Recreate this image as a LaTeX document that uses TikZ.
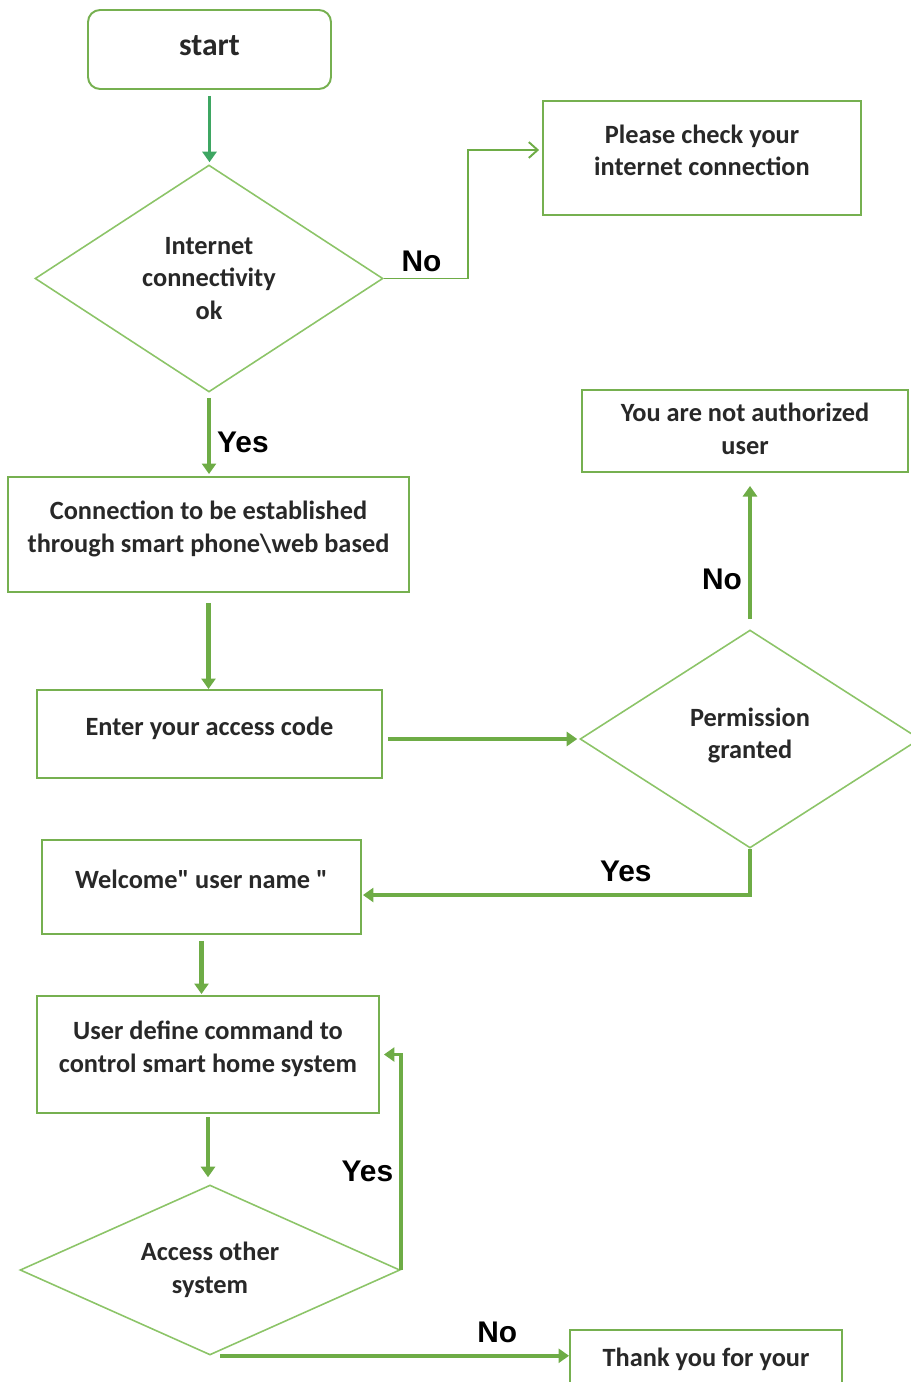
\documentclass[tikz,border=0pt]{standalone}
\usepackage{fontspec}
\setmainfont{Carlito}
\newfontfamily\labelfont{Liberation Sans}
\usetikzlibrary{shapes.geometric,arrows.meta}
\definecolor{boxline}{RGB}{118,176,80}
\definecolor{choiceline}{RGB}{140,196,104}
\definecolor{flowline}{RGB}{110,172,70}
\definecolor{startline}{RGB}{62,166,98}
\definecolor{boxtext}{RGB}{40,40,40}

\begin{document}
\begin{tikzpicture}[x=0.02cm, y=-0.02cm]
    \tikzstyle{every node} = [text=boxtext, align=center, font=\bfseries\fontsize{15}{18.5}\selectfont]
    \tikzstyle{box} = [draw=boxline, line width=1.1pt, inner sep=0pt]
    \tikzstyle{choice} = [draw=choiceline, line width=0.9pt, diamond, aspect=2, inner sep=0pt]
    \tikzstyle{flow} = [draw=flowline, line width=2.6pt, -{Triangle[length=6pt, width=8pt]}]
    \tikzstyle{answer} = [text=black, font=\labelfont\bfseries\fontsize{17}{17}\selectfont]

    \useasboundingbox (0,0) rectangle (910,1382);

    \node[box, rounded corners=0.24cm, minimum width=4.86cm, minimum height=1.58cm,
        font=\bfseries\fontsize{18}{18}\selectfont] (start) at (209.5,49.5) {start\\[-13pt]};
    \node[choice, minimum width=6.96cm, minimum height=4.54cm] (netok) at (209,278.5)
        {Internet\\connectivity\\ok};
    \node[box, minimum width=6.36cm, minimum height=2.28cm] (checknet) at (702,158)
        {Please check your\\internet connection\\[-9.5pt]};
    \node[box, minimum width=8.02cm, minimum height=2.3cm] (connect) at (208.5,534.5)
        {Connection to be established\\through smart phone\textbackslash web based\\[-9.5pt]};
    \node[box, minimum width=6.9cm, minimum height=1.76cm] (entercode) at (209.5,734)
        {Enter your access code\\[-9.5pt]};
    \node[choice, minimum width=6.8cm, minimum height=4.36cm] (permit) at (750,739)
        {Permission\\granted\\[-12pt]};
    \node[box, minimum width=6.52cm, minimum height=1.64cm] (notauth) at (745,431)
        {You are not authorized\\user\\[-16pt]};
    \node[box, minimum width=6.38cm, minimum height=1.88cm] (welcome) at (201.5,887)
        {Welcome\textquotedbl{} user name \textquotedbl\\[-9.5pt]};
    \node[box, minimum width=6.84cm, minimum height=2.34cm] (command) at (208,1054.5)
        {User define command to\\control smart home system\\[-9.5pt]};
    \node[choice, minimum width=7.6cm, minimum height=3.4cm] (other) at (210,1270)
        {Access other\\system};
    \node[box, minimum width=5.44cm, minimum height=1.4cm] (thanks) at (706,1365)
        {Thank you for your\\[-9.5pt]};

    \draw[flow, draw=startline, line width=2pt, shorten <=0.12cm, shorten >=0.04cm]
        (start.south) -- (start.south |- netok.north);
    \draw[draw=flowline, line width=1.1pt, -{Straight Barb[length=5pt, width=9pt]}, shorten >=0.06cm]
        (netok.east) -- node[answer, above, pos=0.45] (nonet) {No} ++(84,0)
        |- ([yshift=0.16cm]checknet.west);
    \draw[flow, shorten <=0.1cm, shorten >=0.04cm]
        (netok.south) -- node[answer, right, pos=0.6] (yesnet) {Yes} (netok.south |- connect.north);
    \draw[flow, shorten <=0.2cm] (connect.south) -- (connect.south |- entercode.north);
    \draw[flow, shorten <=0.1cm, shorten >=0.04cm] (entercode.east |- permit.west) -- (permit.west);
    \draw[flow, shorten <=0.2cm, shorten >=0.26cm]
        (permit.north) -- node[answer, left, pos=0.32] (nopermit) {No} (permit.north |- notauth.south);
    \draw[flow, shorten >=0.02cm]
        (permit.south) |- node[answer, above, pos=0.66, yshift=0.1cm] (yespermit) {Yes} ([yshift=-0.16cm]welcome.east);
    \draw[flow, shorten <=0.12cm, shorten >=0.02cm] (welcome.south) -- (welcome.south |- command.north);
    \draw[flow, line width=2pt, shorten <=0.06cm, shorten >=0.14cm]
        (command.south) -- (command.south |- other.north);
    \draw[flow, line width=2pt, shorten >=0.08cm]
        (other.east) |- node[answer, left, pos=0.23] (yesother) {Yes} (command.east);
    \draw[flow, shorten <=0.2cm]
        (other.south) -- node[answer, above, pos=0.8, yshift=0.1cm] (noother) {No} (other.south -| thanks.west);
\end{tikzpicture}
\end{document}
